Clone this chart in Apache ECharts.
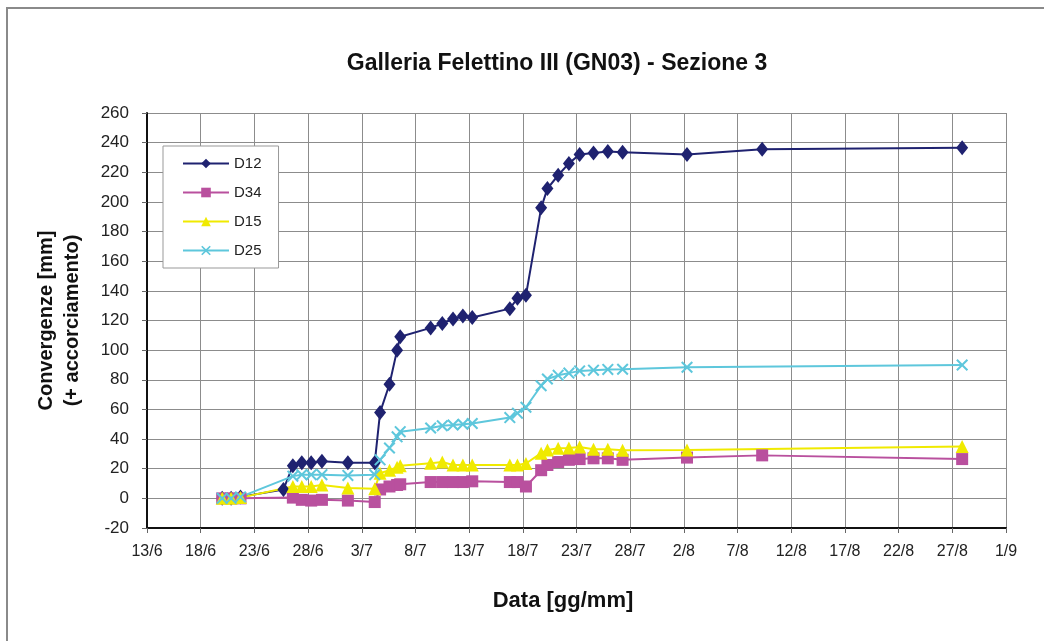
<!DOCTYPE html>
<html>
<head>
<meta charset="utf-8">
<script src="https://cdn.jsdelivr.net/npm/echarts@6/dist/echarts.min.js"></script>
<style>
html,body{margin:0;padding:0;background:#fff;}
#chart{width:1044px;height:641px;}
</style>
</head>
<body>
<div id="chart"></div>
<script>
// Measurement dates (reading times)
const dates = [
  '2010-06-20 00:00','2010-06-20 20:00','2010-06-21 17:00','2010-06-25 17:00',
  '2010-06-26 14:00','2010-06-27 10:00','2010-06-28 07:00','2010-06-29 07:00',
  '2010-07-01 17:00','2010-07-04 05:00','2010-07-04 17:00','2010-07-05 14:00',
  '2010-07-06 07:00','2010-07-06 14:00','2010-07-09 10:00','2010-07-10 12:00',
  '2010-07-11 12:00','2010-07-12 10:00','2010-07-13 07:00','2010-07-16 19:00',
  '2010-07-17 12:00','2010-07-18 07:00','2010-07-19 17:00','2010-07-20 07:00',
  '2010-07-21 07:00','2010-07-22 07:00','2010-07-23 07:00','2010-07-24 14:00',
  '2010-07-25 22:00','2010-07-27 07:00','2010-08-02 07:00','2010-08-09 07:00',
  '2010-08-27 22:00'
];
const D12 = [0, 0, 1, 6, 22, 24, 24, 25, 24, 24, 58, 77, 100, 109, 115, 118, 121, 123, 122, 128, 135, 137, 196, 209, 218, 226, 232, 233, 234, 233.5, 232, 235.5, 236.5];
const D34 = [0, 0, 0, null, 0.5, -1, -1.5, -1, -1.5, -2.5, 6, 8, 9, 9.5, 11, 11, 11, 11, 11.5, 11, 11, 8, 19, 22.5, 24.5, 26, 26.5, 27, 27, 26, 27.5, 29, 26.5];
const D15 = [0, 0, 0.5, null, 8, 8, 8, 9, 7, 6.5, 17, 19, 21, 22, 23.7, 24.5, 22.5, 22.5, 22.5, 22.5, 22.5, 23.5, 30.5, 32.7, 33.8, 34, 34.7, 33.2, 33.2, 32.4, 32.7, null, 35];
const D25 = [0, 0, 1, null, 15, 16, 16, 16, 15.5, 16, 26, 34, 41.5, 45, 47.5, 49, 49.5, 50, 50.5, 54.5, 57.5, 61.5, 76, 80.5, 83, 84.5, 86, 86.5, 87, 87.1, 88.5, null, 90];

const seriesNames = ['D12', 'D34', 'D15', 'D25'];
const seriesValues = [D12, D34, D15, D25];

const xStartDate = '2010-06-13 00:00';
const xEndDate = '2010-09-01 00:00';
const xTickDays = 5;
const yMin = -20, yMax = 260, yStep = 20;

const title = 'Galleria Felettino III (GN03) - Sezione 3';
const xTitle = 'Data [gg/mm]';
const yTitle = 'Convergenze [mm]\n(+ accorciamento)';

function toUTC(s) {
  const m = s.match(/(\d+)-(\d+)-(\d+) (\d+):(\d+)/);
  return Date.UTC(+m[1], +m[2] - 1, +m[3], +m[4], +m[5]);
}
const origin = toUTC(xStartDate);
const DAY = 86400000;
function dayOffset(s) { return (toUTC(s) - origin) / DAY; }

const colors = ['#1f2270', '#b9509e', '#f0ea00', '#5ec7dc'];
const xPath = 'path://M0,1.2 L1.2,0 L5,3.8 L8.8,0 L10,1.2 L6.2,5 L10,8.8 L8.8,10 L5,6.2 L1.2,10 L0,8.8 L3.8,5 Z';
const symbols = ['diamond', 'rect', 'triangle', xPath];
const symbolSizes = [[12, 15], 12, 13, 12];
const FONT = '"Liberation Sans", Arial, sans-serif';

const chart = echarts.init(document.getElementById('chart'));
chart.setOption({
  animation: false,
  backgroundColor: '#fff',
  color: colors,
  graphic: [{
    type: 'rect',
    shape: { x: 7, y: 8, width: 1100, height: 700 },
    style: { fill: 'none', stroke: '#8a8a8a', lineWidth: 2 },
    silent: true
  }, {
    type: 'text',
    x: 557,
    y: 64,
    silent: true,
    style: {
      text: title,
      fill: '#111',
      font: 'bold 23px "Liberation Sans", Arial, sans-serif',
      textAlign: 'center',
      textVerticalAlign: 'middle'
    }
  }],
  legend: {
    orient: 'vertical',
    left: 163,
    top: 146,
    padding: [10, 17, 10, 19],
    itemWidth: 46,
    itemHeight: 12,
    itemGap: 14,
    borderColor: '#999',
    borderWidth: 1,
    backgroundColor: '#fff',
    textStyle: { fontFamily: FONT, fontSize: 15, color: '#222' },
    data: seriesNames
  },
  grid: { left: 147, right: 38, top: 113, bottom: 113 },
  xAxis: {
    type: 'value',
    min: 0,
    max: dayOffset(xEndDate),
    interval: xTickDays,
    name: xTitle,
    nameLocation: 'middle',
    nameGap: 62,
    nameTextStyle: { fontFamily: FONT, fontSize: 22, fontWeight: 'bold', color: '#111', padding: [0, 27, 0, 0] },
    axisLine: { onZero: false, lineStyle: { color: '#111', width: 2 } },
    axisTick: { show: true, length: 5, lineStyle: { color: '#666' } },
    axisLabel: {
      margin: 16,
      fontFamily: FONT, fontSize: 16, color: '#222',
      formatter: function (v) {
        const d = new Date(origin + v * DAY);
        return d.getUTCDate() + '/' + (d.getUTCMonth() + 1);
      }
    },
    splitLine: { show: true, lineStyle: { color: '#8c8c8c', width: 1 } }
  },
  yAxis: {
    type: 'value',
    min: yMin,
    max: yMax,
    interval: yStep,
    name: yTitle,
    nameLocation: 'middle',
    nameRotate: 90,
    nameGap: 62,
    nameTextStyle: { fontFamily: FONT, fontSize: 20, fontWeight: 'bold', color: '#111', lineHeight: 26 },
    axisLine: { show: true, lineStyle: { color: '#111', width: 2 } },
    axisTick: { show: true, length: 5, lineStyle: { color: '#666' } },
    axisLabel: { margin: 18, fontFamily: FONT, fontSize: 17, color: '#222' },
    splitLine: { show: true, lineStyle: { color: '#8c8c8c', width: 1 } }
  },
  series: seriesNames.map(function (name, k) {
    return {
      name: name,
      type: 'line',
      connectNulls: true,
      symbol: symbols[k],
      symbolSize: symbolSizes[k],
      showAllSymbol: true,
      lineStyle: { width: 2, color: colors[k] },
      itemStyle: { color: colors[k] },
      data: dates.map(function (d, i) { return [dayOffset(d), seriesValues[k][i]]; })
    };
  })
});
</script>
</body>
</html>
